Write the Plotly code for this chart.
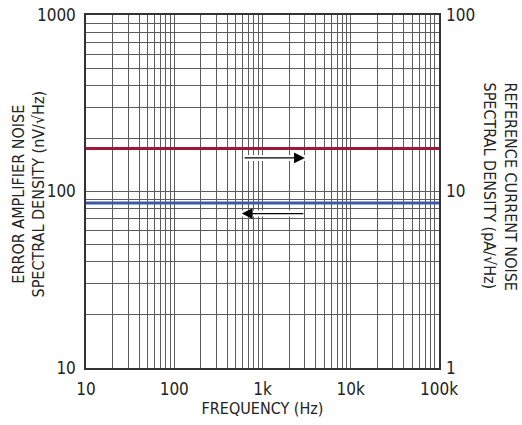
import numpy as np
import plotly.graph_objects as go

freq = [10, 100000]
err_amp_noise = [86, 86]          # nV/rtHz, left axis
ref_current_noise = [17.5, 17.5]  # pA/rtHz, right axis

x_ticks = [10, 100, 1000, 10000, 100000]
x_labels = ["10", "100", "1k", "10k", "100k"]
y_ticks = [10, 100, 1000]
y_labels = ["10", "100", "1000"]
y2_ticks = [1, 10, 100]
y2_labels = ["1", "10", "100"]

FONT = "DejaVu Sans Condensed, Roboto, sans-serif"
GRID = "#5c5c5c"


def log_grid(major, labels):
    vals, texts = [], []
    for i, m in enumerate(major):
        vals.append(m)
        texts.append(labels[i])
        if i < len(major) - 1:
            for k in range(2, 10):
                vals.append(m * k)
                texts.append("")
    return vals, texts


xv, xt = log_grid(x_ticks, x_labels)
yv, yt = log_grid(y_ticks, y_labels)
y2v, y2t = log_grid(y2_ticks, y2_labels)

fig = go.Figure()
fig.add_trace(go.Scatter(x=freq, y=ref_current_noise, mode='lines', yaxis='y2',
                         line=dict(color='#a0173c', width=3), showlegend=False))
fig.add_trace(go.Scatter(x=freq, y=err_amp_noise, mode='lines',
                         line=dict(color='#3c5aa6', width=3), showlegend=False))

# arrows pointing to each curve's axis (positions in log10 units)
arrows = [((2.78, 2.19), (3.48, 2.19)), ((3.48, 1.875), (2.765, 1.875))]
for (x0, y0), (x1, y1) in arrows:
    fig.add_annotation(x=x1, y=y1, ax=x0, ay=y0, xref='x', yref='y', axref='x', ayref='y',
                       showarrow=True, arrowhead=0, arrowwidth=6, arrowcolor='white', text='')
for (x0, y0), (x1, y1) in arrows:
    fig.add_annotation(x=x1, y=y1, ax=x0, ay=y0, xref='x', yref='y', axref='x', ayref='y',
                       showarrow=True, arrowhead=2, arrowsize=1.8, arrowwidth=1.2,
                       arrowcolor='black', text='')

fig.add_annotation(text="ERROR AMPLIFIER NOISE<br>SPECTRAL DENSITY (nV/√Hz)", textangle=-90,
                   xref='paper', yref='paper', x=0, y=0.5, xanchor='center', yanchor='middle',
                   xshift=-58, yshift=-3, showarrow=False, font=dict(size=16, color='#222'))
fig.add_annotation(text="REFERENCE CURRENT NOISE<br>SPECTRAL DENSITY (pA/√Hz)", textangle=90,
                   xref='paper', yref='paper', x=1, y=0.5, xanchor='center', yanchor='middle',
                   align='left', xshift=61, yshift=5, showarrow=False,
                   font=dict(size=16, color='#222'))

fig.update_layout(width=522, height=425, margin=dict(l=86, r=83, t=15, b=57),
                  plot_bgcolor='white', paper_bgcolor='white',
                  font=dict(family=FONT, size=17, color='#222'))
fig.update_xaxes(type='log', range=[1, 5], tickvals=xv, ticktext=xt, showgrid=True,
                 gridcolor=GRID, gridwidth=1.3, showline=True, linecolor='#333', linewidth=1.5,
                 mirror=True, ticks='', zeroline=False, automargin=False,
                 ticklabelstandoff=5, ticklabeloverflow='allow',
                 title=dict(text="FREQUENCY (Hz)", font=dict(size=16), standoff=5))
fig.update_yaxes(type='log', range=[1, 3], tickvals=yv, ticktext=yt, showgrid=True,
                 gridcolor=GRID, gridwidth=1.3, showline=True, linecolor='#333', linewidth=1.5,
                 mirror=True, ticks='', zeroline=False, ticklabelstandoff=5, automargin=False,
                 ticklabeloverflow='allow')
fig.update_layout(yaxis2=dict(type='log', range=[0, 2], overlaying='y', side='right',
                              tickvals=y2v, ticktext=y2t, showgrid=False, ticks='',
                              zeroline=False, ticklabelstandoff=6, automargin=False,
                              ticklabeloverflow='allow'))

# drop the default page margin so the figure fills the window
fig.write_html("out.html", config={'displayModeBar': False},
               post_script="document.body.style.margin = '0';")
